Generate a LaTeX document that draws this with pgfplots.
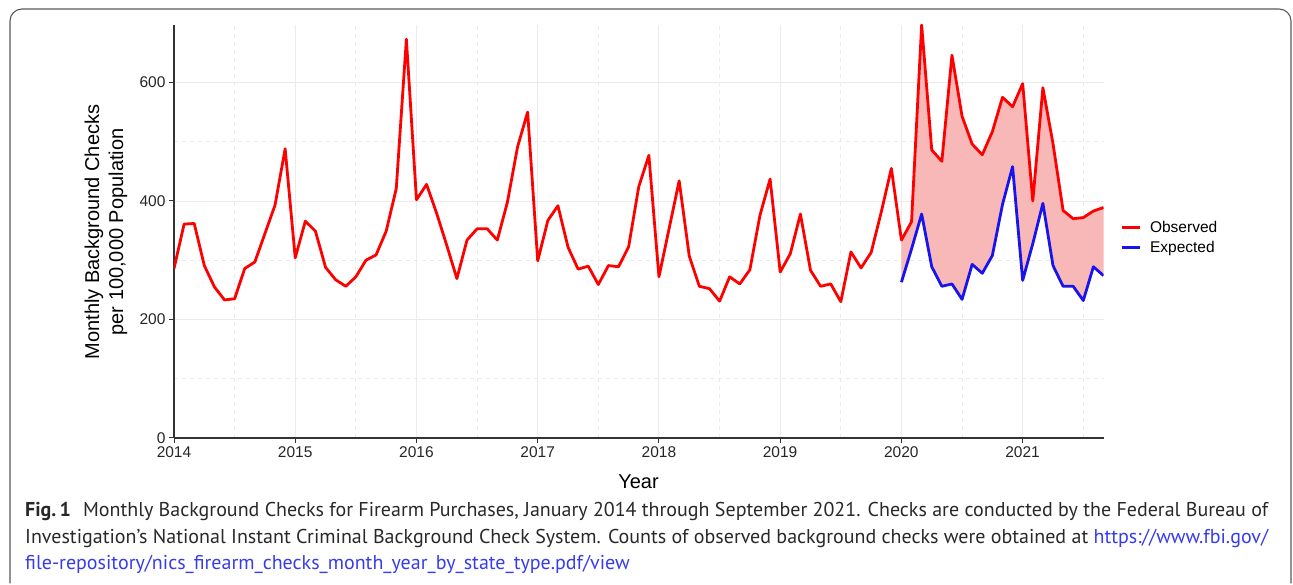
\documentclass[border=0pt]{standalone}
\usepackage{fontspec}
\setmainfont{Liberation Sans}
\newfontfamily\capfont{PT Sans}
\usepackage{pgfplots}
\usepackage{pgfplotstable}
\pgfplotsset{compat=1.18}
\usepgfplotslibrary{fillbetween}
\definecolor{obsred}{RGB}{255,0,0}
\definecolor{expblue}{RGB}{25,20,235}
\definecolor{fillred}{RGB}{248,184,184}
\definecolor{linkblue}{RGB}{55,60,235}
\definecolor{captext}{RGB}{40,40,40}

\pgfplotstableread{
x y
2014.0000 286
2014.0833 361
2014.1667 362
2014.2500 291
2014.3333 255
2014.4167 233
2014.5000 235
2014.5833 286
2014.6667 297
2014.7500 345
2014.8333 393
2014.9167 488
2015.0000 304
2015.0833 366
2015.1667 349
2015.2500 288
2015.3333 267
2015.4167 256
2015.5000 272
2015.5833 300
2015.6667 309
2015.7500 349
2015.8333 421
2015.9167 673
2016.0000 402
2016.0833 428
2016.1667 379
2016.2500 325
2016.3333 269
2016.4167 334
2016.5000 353
2016.5833 353
2016.6667 334
2016.7500 398
2016.8333 491
2016.9167 550
2017.0000 299
2017.0833 367
2017.1667 392
2017.2500 322
2017.3333 285
2017.4167 290
2017.5000 259
2017.5833 291
2017.6667 289
2017.7500 323
2017.8333 424
2017.9167 477
2018.0000 272
2018.0833 353
2018.1667 434
2018.2500 307
2018.3333 256
2018.4167 252
2018.5000 231
2018.5833 272
2018.6667 260
2018.7500 284
2018.8333 376
2018.9167 437
2019.0000 280
2019.0833 311
2019.1667 378
2019.2500 283
2019.3333 256
2019.4167 260
2019.5000 230
2019.5833 314
2019.6667 287
2019.7500 313
2019.8333 381
2019.9167 455
2020.0000 334
2020.0833 365
2020.1667 697
2020.2500 486
2020.3333 467
2020.4167 646
2020.5000 543
2020.5833 496
2020.6667 478
2020.7500 517
2020.8333 575
2020.9167 559
2021.0000 598
2021.0833 400
2021.1667 591
2021.2500 497
2021.3333 384
2021.4167 370
2021.5000 372
2021.5833 383
2021.6667 389
}\observed

\pgfplotstableread{
x y
2020.0000 334
2020.0833 365
2020.1667 697
2020.2500 486
2020.3333 467
2020.4167 646
2020.5000 543
2020.5833 496
2020.6667 478
2020.7500 517
2020.8333 575
2020.9167 559
2021.0000 598
2021.0833 400
2021.1667 591
2021.2500 497
2021.3333 384
2021.4167 370
2021.5000 372
2021.5833 383
2021.6667 389
}\observedlate

\pgfplotstableread{
x y
2020.0000 263
2020.0833 319
2020.1667 378
2020.2500 289
2020.3333 256
2020.4167 260
2020.5000 234
2020.5833 293
2020.6667 278
2020.7500 308
2020.8333 394
2020.9167 458
2021.0000 266
2021.0833 328
2021.1667 396
2021.2500 291
2021.3333 256
2021.4167 256
2021.5000 232
2021.5833 289
2021.6667 274
}\expected

\begin{document}
\begin{tikzpicture}[x=1pt,y=1pt]
\path (0,0) rectangle (1293,584);
\draw[black!65, line width=1.1pt, rounded corners=12pt] (10,0.6) -- (10,575) -- (1291,575) -- (1291,0.6);
\begin{axis}[
  at={(174pt,146pt)}, anchor=south west,
  scale only axis, width=929.5pt, height=413pt,
  xmin=2014, xmax=2021.6667, ymin=0, ymax=697,
  xtick={2014,...,2021}, ytick={0,200,400,600},
  minor xtick={2014.5,2015.5,...,2021.5}, minor ytick={100,300,500},
  grid=both,
  major grid style={draw=black!8, line width=0.9pt},
  minor grid style={draw=black!8, line width=0.8pt, dash pattern=on 4pt off 4pt},
  axis x line*=bottom, axis y line*=left,
  axis line style={-, draw=black!80, line width=1.3pt},
  tick align=outside, major tick length=5pt, minor tick length=0pt,
  tick style={draw=black!80, line width=1pt},
  tick label style={font=\fontsize{15.5}{18}\selectfont, text=black!85},
  /pgf/number format/assume math mode=true,
  /pgf/number format/1000 sep={},
  legend style={at={(axis description cs:1.0178,0.4855)}, anchor=west,
    draw=none, fill=none, font=\fontsize{15.5}{18}\selectfont,
    row sep=2.6pt, inner sep=0pt, nodes={inner sep=2pt},
    /tikz/every odd column/.append style={column sep=7pt}},
  legend cell align=left,
  legend image code/.code={\draw[#1] (0pt,0pt) -- (18pt,0pt);},
]
\addplot[draw=none, name path=obsl, forget plot] table[x=x,y=y] {\observedlate};
\addplot[draw=none, name path=expl, forget plot] table[x=x,y=y] {\expected};
\addplot[fill=fillred, draw=none, forget plot] fill between[of=obsl and expl];
\addplot[obsred, line width=2.8pt, line join=round] table[x=x,y=y] {\observed};
\addlegendentry{Observed}
\addplot[expblue, line width=2.8pt, line join=round] table[x=x,y=y] {\expected};
\addlegendentry{Expected}
\end{axis}
\node[rotate=90, align=center, font=\fontsize{20}{24}\selectfont] at (106,352) {Monthly Background Checks\\per 100,000 Population};
\node[font=\fontsize{20}{24}\selectfont] at (638.5,102) {Year};
\begin{scope}[every node/.style={anchor=base west, inner sep=0pt, font=\capfont\fontsize{20}{24}\selectfont, text=captext}]
\node at (25,68) {\makebox[1243pt][s]{\textbf{Fig.\,1}\hspace{0.6em}Monthly Background Checks for Firearm Purchases, January 2014 through September 2021. Checks are conducted by the Federal Bureau of}};
\node at (25,41) {\makebox[1243pt][s]{Investigation’s National Instant Criminal Background Check System. Counts of observed background checks were obtained at {\color{linkblue}https://www.fbi.gov/}}};
\node at (25,15) {{\color{linkblue}file-repository/nics\_firearm\_checks\_month\_year\_by\_state\_type.pdf/view}};
\end{scope}
\end{tikzpicture}
\end{document}
